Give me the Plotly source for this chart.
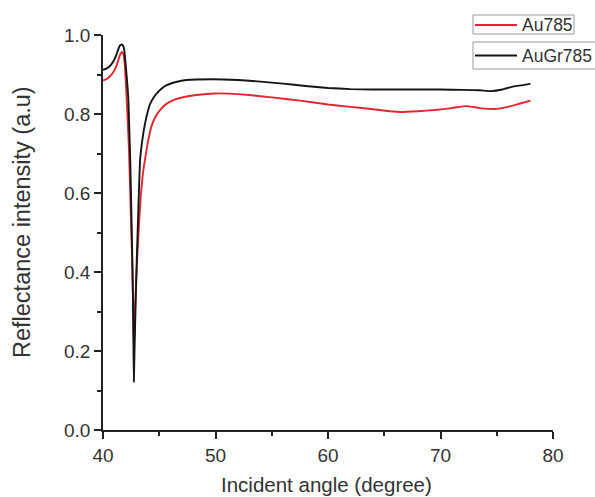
import plotly.graph_objects as go

# Incident angle (degree) and reflectance for each sample
angle_au = [40.0, 40.3, 40.6, 40.9, 41.2, 41.4, 41.55, 41.7, 41.82, 41.92, 42.05, 42.15,
            42.25, 42.32, 42.42, 42.52, 42.6, 42.68, 42.74, 42.82, 42.92, 43.05, 43.2,
            43.35, 43.55, 43.73, 44.0, 44.3, 44.7, 45.07, 45.6, 46.25, 47.2, 48.3, 50.0,
            51.5, 53.0, 55.0, 57.5, 60.0, 62.0, 64.0, 65.5, 66.5, 68.0, 69.5, 71.0, 72.3,
            73.5, 75.0, 76.0, 77.0, 78.0]
refl_au = [0.885, 0.888, 0.895, 0.905, 0.922, 0.940, 0.952, 0.957, 0.950, 0.930, 0.870, 0.810,
           0.750, 0.700, 0.600, 0.500, 0.420, 0.320, 0.200, 0.280, 0.360, 0.440, 0.520,
           0.590, 0.650, 0.684, 0.730, 0.768, 0.795, 0.810, 0.825, 0.835, 0.843, 0.848, 0.852,
           0.851, 0.848, 0.842, 0.834, 0.824, 0.818, 0.812, 0.807, 0.805, 0.807, 0.810, 0.815, 0.820,
           0.815, 0.813, 0.818, 0.826, 0.834]

angle_augr = [40.0, 40.3, 40.6, 40.9, 41.15, 41.35, 41.5, 41.65, 41.8, 41.9, 42.0, 42.15,
              42.25, 42.35, 42.42, 42.5, 42.58, 42.65, 42.7, 42.74, 42.8, 42.9, 43.0, 43.1,
              43.2, 43.3, 43.5, 43.73, 44.0, 44.18, 44.5, 44.8, 45.2, 45.66, 46.5, 47.4, 49.8,
              52.0, 54.0, 56.0, 58.0, 60.0, 62.0, 64.0, 66.0, 68.0, 70.0, 72.0, 73.5, 74.5,
              75.5, 76.5, 77.3, 78.0]
refl_augr = [0.912, 0.915, 0.921, 0.932, 0.947, 0.963, 0.973, 0.976, 0.972, 0.960, 0.930, 0.880,
             0.840, 0.750, 0.684, 0.580, 0.470, 0.360, 0.240, 0.122, 0.200, 0.320, 0.430, 0.520,
             0.610, 0.684, 0.735, 0.775, 0.808, 0.825, 0.842, 0.853, 0.864, 0.873, 0.881, 0.886, 0.888,
             0.886, 0.882, 0.877, 0.871, 0.866, 0.863, 0.862, 0.862, 0.862, 0.862, 0.861, 0.860, 0.858,
             0.862, 0.870, 0.873, 0.877]

series_names = ["Au785", "AuGr785"]
series_colors = ["#e3262e", "#151515"]

x_ticks = [40, 50, 60, 70, 80]
y_ticks = [0.0, 0.2, 0.4, 0.6, 0.8, 1.0]
y_ticklabels = ["0.0", "0.2", "0.4", "0.6", "0.8", "1.0"]

W, H = 595, 497
ML, MR, MT, MB = 103, 42, 35, 67
PW, PH = W - ML - MR, H - MT - MB


def px_x(p):
    return (p - ML) / PW


def px_y(p):
    return (H - MB - p) / PH


FONT = "Liberation Sans, Arial, sans-serif"
TXT = "#333333"
AX = "#222222"

fig = go.Figure()
fig.add_trace(go.Scatter(x=angle_au, y=refl_au, mode="lines", name=series_names[0],
                         line=dict(color=series_colors[0], width=1.9, shape="spline", smoothing=0.4)))
fig.add_trace(go.Scatter(x=angle_augr, y=refl_augr, mode="lines", name=series_names[1],
                         line=dict(color=series_colors[1], width=1.9, shape="spline", smoothing=0.4)))

# Legend boxes drawn as two separate framed entries (as in the original)
legend_boxes = [(473, 574, 15, 34, 25), (473, 598, 42, 69, 55.6)]
shapes = []
annotations = []
for (bx0, bx1, by0, by1, ly), name, col in zip(legend_boxes, series_names, series_colors):
    shapes.append(dict(type="rect", xref="paper", yref="paper",
                       x0=px_x(bx0), x1=px_x(bx1), y0=px_y(by1), y1=px_y(by0),
                       line=dict(color="#9a9a9a", width=1), fillcolor="white", layer="above"))
    shapes.append(dict(type="line", xref="paper", yref="paper",
                       x0=px_x(475), x1=px_x(517), y0=px_y(ly), y1=px_y(ly),
                       line=dict(color=col, width=2), layer="above"))
    annotations.append(dict(text=name, xref="paper", yref="paper", x=px_x(520), y=px_y(ly),
                            xanchor="left", yanchor="middle", showarrow=False,
                            font=dict(family=FONT, size=17.5, color=TXT)))

annotations.append(dict(text="Incident angle (degree)", xref="paper", yref="paper",
                        x=px_x(326), y=px_y(484), xanchor="center", yanchor="middle",
                        showarrow=False, font=dict(family=FONT, size=20.5, color=TXT)))
annotations.append(dict(text="Reflectance intensity (a.u)", xref="paper", yref="paper",
                        x=px_x(22), y=px_y(222), xanchor="center", yanchor="middle", textangle=-90,
                        showarrow=False, font=dict(family=FONT, size=23.5, color=TXT)))

fig.update_layout(
    width=W, height=H,
    margin=dict(l=ML, r=MR, t=MT, b=MB),
    paper_bgcolor="white", plot_bgcolor="white",
    font=dict(family=FONT, size=19, color=TXT),
    showlegend=False,
    shapes=shapes,
    annotations=annotations,
)
fig.update_xaxes(range=[40, 80], tickvals=x_ticks, ticks="outside", ticklen=7, tickwidth=1.6,
                 tickcolor=AX, showline=True, linecolor=AX, linewidth=1.6,
                 showgrid=False, zeroline=False, tickfont=dict(size=19, color=TXT),
                 minor=dict(dtick=5, tick0=40, ticks="outside", ticklen=4, tickwidth=1.6, tickcolor=AX))
fig.update_yaxes(range=[0, 1.0], tickvals=y_ticks, ticktext=y_ticklabels, ticks="outside", ticklen=7,
                 tickwidth=1.6, tickcolor=AX, showline=True, linecolor=AX, linewidth=1.6,
                 showgrid=False, zeroline=False, tickfont=dict(size=19, color=TXT),
                 minor=dict(dtick=0.1, tick0=0, ticks="outside", ticklen=4, tickwidth=1.6, tickcolor=AX))

fig.write_html("out.html")
